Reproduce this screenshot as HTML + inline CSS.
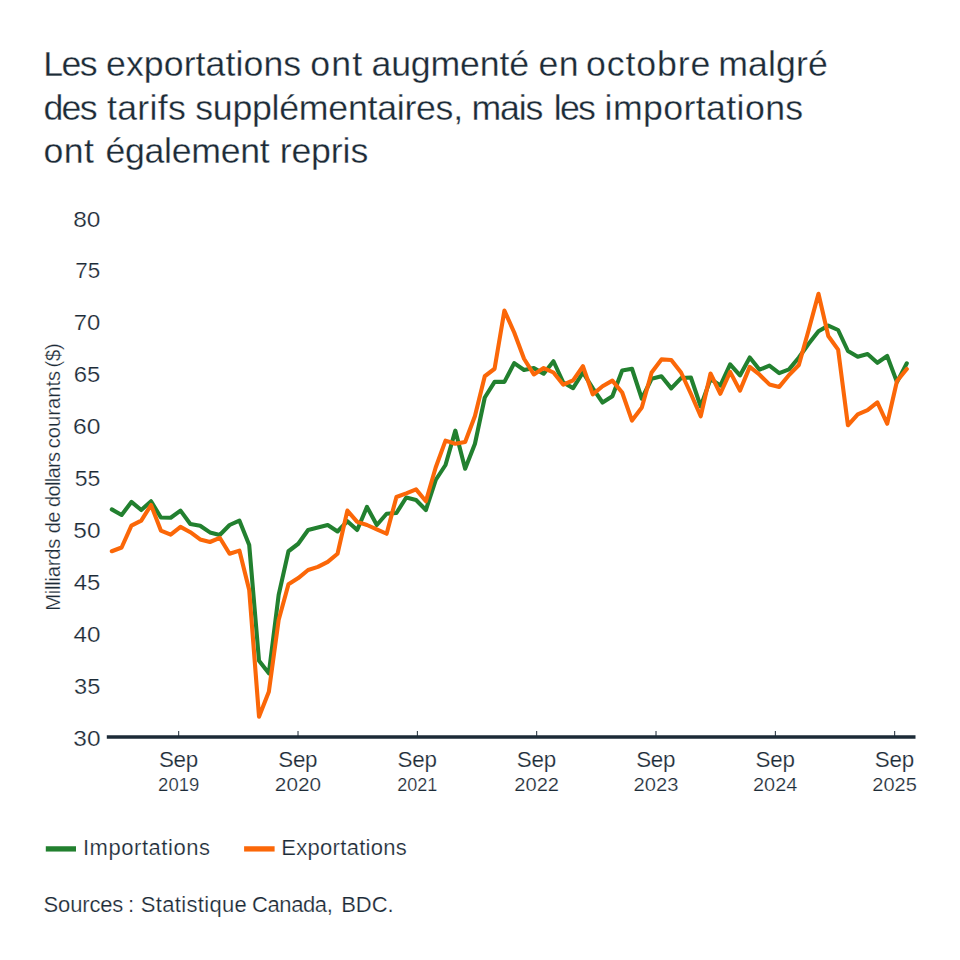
<!DOCTYPE html>
<html lang="fr"><head><meta charset="utf-8"><title>Les exportations ont augmenté en octobre</title>
<style>html,body{margin:0;padding:0;background:#fff}body{width:960px;height:960px;overflow:hidden}svg{display:block}text{font-family:"Liberation Sans", Arial, Helvetica, sans-serif;fill:#1c2b37;white-space:pre;stroke:#fff;stroke-width:.22px;paint-order:fill stroke}.t{stroke-width:.3px}</style>
</head><body>
<svg width="960" height="960" viewBox="0 0 960 960">
<rect width="960" height="960" fill="#ffffff"/>
<text y="76.25" font-size="35.7" class="t"><tspan x="43.32" letter-spacing="-1.670">Les </tspan><tspan x="105.98" letter-spacing="0.075">exportations </tspan><tspan x="310.25" letter-spacing="1.191">ont </tspan><tspan x="371.48" letter-spacing="-0.169">augmenté </tspan><tspan x="538.48" letter-spacing="0.376">en </tspan><tspan x="586.00" letter-spacing="0.877">octobre </tspan><tspan x="718.13" letter-spacing="0.117">malgré</tspan></text>
<text y="120.3" font-size="35.7" class="t"><tspan x="43.50" letter-spacing="-1.760">des </tspan><tspan x="106.96" letter-spacing="0.294">tarifs </tspan><tspan x="195.26" letter-spacing="-0.261">supplémentaires, </tspan><tspan x="471.38" letter-spacing="-1.155">mais </tspan><tspan x="553.84" letter-spacing="-1.845">les </tspan><tspan x="604.61" letter-spacing="0.384">importations</tspan></text>
<text y="163.4" font-size="35.7" class="t"><tspan x="43.50" letter-spacing="0.441">ont </tspan><tspan x="105.48" letter-spacing="-0.305">également </tspan><tspan x="279.63" letter-spacing="-0.121">repris</tspan></text>
<text transform="translate(73.14,226.5) scale(1.1123,1)" font-size="22">80</text>
<text transform="translate(75.35,278.4) scale(1.0215,1)" font-size="22">75</text>
<text transform="translate(73.78,330.3) scale(1.0852,1)" font-size="22">70</text>
<text transform="translate(73.78,382.2) scale(1.0878,1)" font-size="22">65</text>
<text transform="translate(72.95,434.1) scale(1.1203,1)" font-size="22">60</text>
<text transform="translate(74.78,486.0) scale(1.0500,1)" font-size="22">55</text>
<text transform="translate(73.32,537.9) scale(1.1130,1)" font-size="22">50</text>
<text transform="translate(73.75,589.8) scale(1.0893,1)" font-size="22">45</text>
<text transform="translate(73.54,641.7) scale(1.1036,1)" font-size="22">40</text>
<text transform="translate(74.10,693.6) scale(1.0745,1)" font-size="22">35</text>
<text transform="translate(73.37,745.5) scale(1.1109,1)" font-size="22">30</text>
<text y="0" font-size="20.2" transform="translate(59.9,0) rotate(-90)"><tspan x="-610.86" letter-spacing="-0.236">Milliards </tspan><tspan x="-533.35" letter-spacing="-0.723">de </tspan><tspan x="-507.10" letter-spacing="-0.696">dollars </tspan><tspan x="-448.36" letter-spacing="0.016">courants </tspan><tspan x="-367.50" letter-spacing="-0.166">($)</tspan></text>
<polyline fill="none" stroke="#22802f" stroke-width="4.1" stroke-linejoin="round" stroke-linecap="round" points="111.80,509.40 121.61,515.00 131.43,501.90 141.25,510.00 151.06,501.25 160.88,517.50 170.69,517.75 180.50,510.60 190.32,524.00 200.13,525.80 209.95,532.40 219.76,535.00 229.58,525.00 239.39,520.60 249.21,545.00 259.02,660.80 268.84,673.30 278.65,595.00 288.47,551.25 298.28,543.75 308.10,530.00 317.91,527.50 327.73,525.00 337.54,531.50 347.36,521.25 357.18,530.00 366.99,506.90 376.81,525.00 386.62,513.75 396.44,513.00 406.25,497.50 416.06,500.00 425.88,510.00 435.69,480.00 445.51,465.00 455.32,430.60 465.14,468.75 474.95,443.75 484.77,397.50 494.58,381.90 504.40,381.90 514.21,363.10 524.03,370.00 533.84,368.10 543.66,373.75 553.47,361.25 563.29,382.50 573.10,388.10 582.92,372.50 592.74,388.10 602.55,402.50 612.37,396.25 622.18,370.60 631.99,368.75 641.81,398.75 651.62,378.75 661.44,376.25 671.25,388.40 681.07,378.10 690.88,377.50 700.70,406.50 710.51,379.00 720.33,385.50 730.14,364.30 739.96,375.40 749.77,357.50 759.59,369.70 769.40,365.60 779.22,373.10 789.03,369.40 798.85,357.50 808.66,343.75 818.48,331.25 828.29,325.60 838.11,330.00 847.92,351.00 857.74,356.70 867.55,354.00 877.37,362.80 887.18,356.00 897.00,382.10 906.81,363.30"/>
<polyline fill="none" stroke="#fb6708" stroke-width="4.1" stroke-linejoin="round" stroke-linecap="round" points="111.80,551.25 121.61,547.50 131.43,525.60 141.25,520.60 151.06,505.00 160.88,530.60 170.69,534.60 180.50,526.90 190.32,532.20 200.13,539.40 209.95,542.00 219.76,537.80 229.58,553.75 239.39,550.60 249.21,590.00 259.02,716.70 268.84,691.70 278.65,620.00 288.47,584.30 298.28,578.10 308.10,570.00 317.91,566.90 327.73,561.90 337.54,553.75 347.36,510.60 357.18,521.90 366.99,525.00 376.81,529.40 386.62,533.75 396.44,497.00 406.25,493.40 416.06,489.40 425.88,501.25 435.69,467.50 445.51,440.60 455.32,443.75 465.14,441.90 474.95,416.00 484.77,376.25 494.58,368.75 504.40,310.60 514.21,332.50 524.03,358.75 533.84,374.40 543.66,368.10 553.47,372.50 563.29,384.70 573.10,380.30 582.92,366.25 592.74,394.40 602.55,386.25 612.37,380.60 622.18,392.50 631.99,420.60 641.81,407.50 651.62,372.50 661.44,359.40 671.25,360.00 681.07,372.50 690.88,393.75 700.70,416.25 710.51,373.50 720.33,393.75 730.14,371.90 739.96,390.60 749.77,366.90 759.59,374.70 769.40,384.40 779.22,386.90 789.03,375.00 798.85,365.00 808.66,330.00 818.48,293.75 828.29,336.00 838.11,349.60 847.92,425.30 857.74,414.40 867.55,410.20 877.37,402.40 887.18,423.75 897.00,381.00 906.81,369.00"/>
<line x1="106.8" y1="737.05" x2="915.5" y2="737.05" stroke="#1c2b37" stroke-width="3.4"/>
<line x1="178.70" y1="731" x2="178.70" y2="737" stroke="#1c2b37" stroke-width="1"/>
<text y="767.0" font-size="22.4"><tspan x="158.88" letter-spacing="-0.249">Sep</tspan></text>
<text transform="translate(158.12,790.8) scale(1.0380,1)" font-size="17.8">2019</text>
<line x1="298.03" y1="731" x2="298.03" y2="737" stroke="#1c2b37" stroke-width="1"/>
<text y="767.0" font-size="22.4"><tspan x="278.21" letter-spacing="-0.249">Sep</tspan></text>
<text transform="translate(274.84,790.8) scale(1.1656,1)" font-size="17.8">2020</text>
<line x1="417.36" y1="731" x2="417.36" y2="737" stroke="#1c2b37" stroke-width="1"/>
<text y="767.0" font-size="22.4"><tspan x="397.54" letter-spacing="-0.249">Sep</tspan></text>
<text transform="translate(397.25,790.8) scale(1.0150,1)" font-size="17.8">2021</text>
<line x1="536.69" y1="731" x2="536.69" y2="737" stroke="#1c2b37" stroke-width="1"/>
<text y="767.0" font-size="22.4"><tspan x="516.87" letter-spacing="-0.249">Sep</tspan></text>
<text transform="translate(514.33,790.8) scale(1.1294,1)" font-size="17.8">2022</text>
<line x1="656.02" y1="731" x2="656.02" y2="737" stroke="#1c2b37" stroke-width="1"/>
<text y="767.0" font-size="22.4"><tspan x="636.20" letter-spacing="-0.249">Sep</tspan></text>
<text transform="translate(633.50,790.8) scale(1.1339,1)" font-size="17.8">2023</text>
<line x1="775.35" y1="731" x2="775.35" y2="737" stroke="#1c2b37" stroke-width="1"/>
<text y="767.0" font-size="22.4"><tspan x="755.53" letter-spacing="-0.249">Sep</tspan></text>
<text transform="translate(753.00,790.8) scale(1.1183,1)" font-size="17.8">2024</text>
<line x1="894.68" y1="731" x2="894.68" y2="737" stroke="#1c2b37" stroke-width="1"/>
<text y="767.0" font-size="22.4"><tspan x="874.86" letter-spacing="-0.249">Sep</tspan></text>
<text transform="translate(872.32,790.8) scale(1.1250,1)" font-size="17.8">2025</text>
<rect x="45.8" y="846.25" width="30.2" height="5.3" fill="#22802f"/>
<text y="855.3" font-size="22"><tspan x="82.97" letter-spacing="0.543">Importations</tspan></text>
<rect x="244.1" y="846.25" width="30.5" height="5.3" fill="#fb6708"/>
<text y="855.3" font-size="22"><tspan x="281.30" letter-spacing="0.292">Exportations</tspan></text>
<text y="912.1" font-size="22"><tspan x="43.60" letter-spacing="-0.169">Sources </tspan><tspan x="127.99" letter-spacing="0.000">: </tspan><tspan x="140.70" letter-spacing="0.335">Statistique </tspan><tspan x="251.98" letter-spacing="-0.397">Canada, </tspan><tspan x="341.20" letter-spacing="-0.049">BDC.</tspan></text>
</svg></body></html>
